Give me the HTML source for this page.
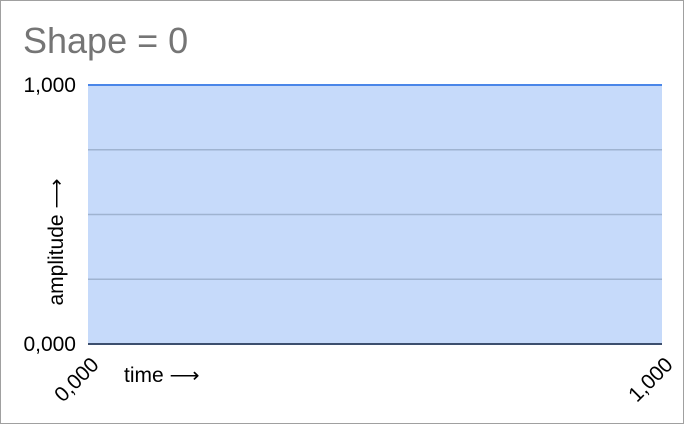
<!DOCTYPE html>
<html><head><meta charset="utf-8"><style>
html,body{margin:0;padding:0;background:#fff;}
body{width:684px;height:425px;overflow:hidden;font-family:"Liberation Sans",Arial,sans-serif;}
</style></head><body>
<svg id="chart" width="684" height="425" xmlns="http://www.w3.org/2000/svg">
<rect x="0.5" y="0.5" width="683" height="423" fill="#fff" stroke="#a0a0a0"/>
<text x="23" y="53" font-size="36" fill="#757575">Shape = 0</text>
<g id="plot"></g>
<text transform="translate(63,242) rotate(-90)" font-size="21" fill="#000" text-anchor="middle">amplitude ⟶</text>
<text x="124" y="382" font-size="21" fill="#000">time ⟶</text>
</svg>
<script>
const xValues=[0,1];
const yValues=[1,1];
const yTicks=[0,0.25,0.5,0.75,1];
const yTickLabels=["0,000","","","","1,000"];
const xTicks=[0,1];
const xTickLabels=["0,000","1,000"];
const L=88,R=662,T=85,B=344;
const xs=v=>L+(v-0)/(1-0)*(R-L);
const ys=v=>B-(v-0)/(1-0)*(B-T);
const NS="http://www.w3.org/2000/svg";
const g=document.getElementById('plot');
function mk(t,a){const e=document.createElementNS(NS,t);for(const k in a)e.setAttribute(k,a[k]);g.appendChild(e);return e;}
let d="M"+xs(xValues[0])+","+ys(0);
xValues.forEach((x,i)=>{d+=" L"+xs(x)+","+ys(yValues[i]);});
d+=" L"+xs(xValues[xValues.length-1])+","+ys(0)+" Z";
const area=mk('path',{d:d,fill:'#c6dafa'});


yTicks.forEach((t,i)=>{
  if(t>0&&t<1){const gl=mk('line',{x1:L,x2:R,y1:ys(t),y2:ys(t),stroke:'#9fb3d0','stroke-width':1.5});
  
  }
  if(yTickLabels[i]){const tx=mk('text',{x:76,y:ys(t)+7,'font-size':21,'text-anchor':'end',fill:'#000'});tx.textContent=yTickLabels[i];
  
  }
});
let ld="";
xValues.forEach((x,i)=>{ld+=(i?" L":"M")+xs(x)+","+ys(yValues[i]);});
const line=mk('path',{d:ld,fill:'none',stroke:'#4a86e8','stroke-width':2});


const base=mk('line',{x1:L,x2:R,y1:ys(0),y2:ys(0),stroke:'#3d4f6e','stroke-width':2});


xTicks.forEach((t,i)=>{
  const x=xs(t);
  const tx=mk('text',{x:0,y:0,'font-size':21,'text-anchor':'end',fill:'#000',transform:`translate(${x+12},${ys(0)+22}) rotate(-45)`});
  tx.textContent=xTickLabels[i];
  
  
});
</script>
</body></html>
